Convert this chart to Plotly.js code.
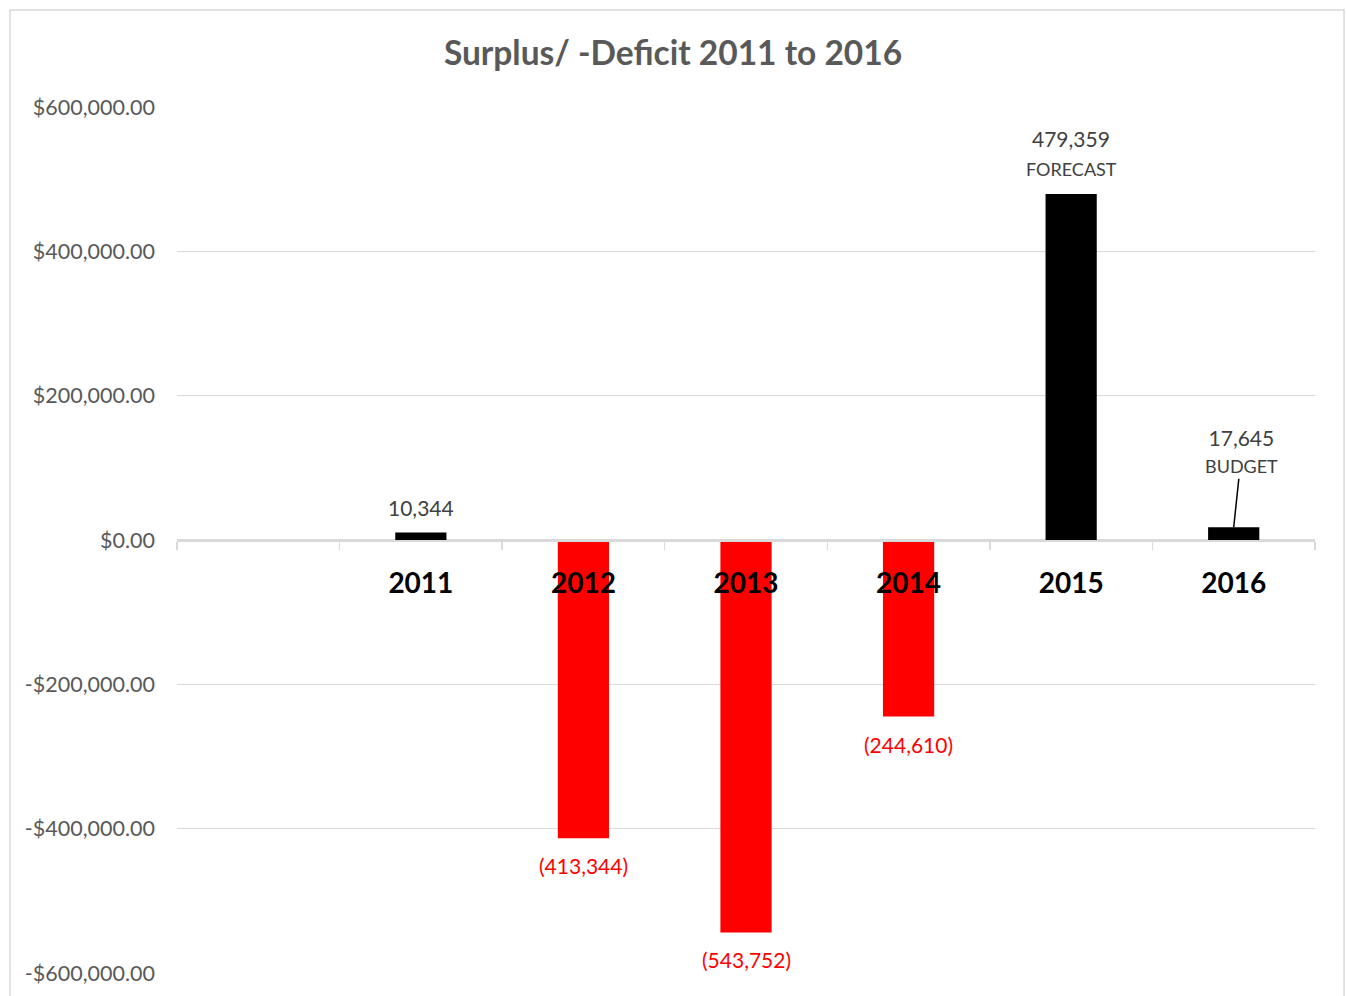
<!DOCTYPE html>
<html>
<head>
<meta charset="utf-8">
<script src="https://cdn.plot.ly/plotly-3.0.1.min.js"></script>
<style>html,body{margin:0;padding:0;background:#fff;}#chart{width:1346px;height:996px;}</style>
</head>
<body>
<div id="chart"></div>
<script>
const categories = [" ", "2011", "2012", "2013", "2014", "2015", "2016"];
const years = ["2011", "2012", "2013", "2014", "2015", "2016"];
const values = [10344, -413344, -543752, -244610, 479359, 17645];
const notes = ["", "", "", "", "FORECAST", "BUDGET"];
const yTickVals = [-600000, -400000, -200000, 0, 200000, 400000, 600000];

const FONT = "Lato, 'Open Sans', sans-serif";
const barColors = values.map(v => v < 0 ? "#ff0000" : "#000000");
const labelColors = values.map(v => v < 0 ? "#ff0000" : "#404040");
const fmt = v => {
  const s = Math.abs(v).toLocaleString("en-US");
  return v < 0 ? "(" + s + ")" : s;
};
const money = v => (v < 0 ? "-$" : "$") + Math.abs(v).toLocaleString("en-US", {minimumFractionDigits: 2, maximumFractionDigits: 2});
const yTickText = yTickVals.map(money);

const annotations = [];
years.forEach((yr, i) => {
  const v = values[i];
  const xi = categories.indexOf(yr);
  const font = {family: FONT, size: 21, color: labelColors[i]};
  if (notes[i] === "BUDGET") {
    annotations.push({
      x: xi, y: v, xref: "x", yref: "y",
      text: fmt(v) + "<br><span style='font-size:18px'>" + notes[i] + "</span>",
      showarrow: true, arrowhead: 0, arrowwidth: 1.5, arrowcolor: "#000",
      ax: 8, ay: -76, standoff: 0, font: font
    });
  } else if (notes[i]) {
    annotations.push({
      x: xi, y: v, xref: "x", yref: "y", text: notes[i], showarrow: false,
      yanchor: "bottom", yshift: 12,
      font: {family: FONT, size: 18, color: labelColors[i]}
    });
    annotations.push({
      x: xi, y: v, xref: "x", yref: "y", text: fmt(v), showarrow: false,
      yanchor: "bottom", yshift: 41, font: font
    });
  } else {
    annotations.push({
      x: xi, y: v, xref: "x", yref: "y", text: fmt(v), showarrow: false,
      yanchor: v < 0 ? "top" : "bottom", yshift: v < 0 ? -13 : 11, font: font
    });
  }
});

const data = [{
  type: "bar",
  x: years,
  y: values,
  marker: {color: barColors},
  width: 0.315,
  hoverinfo: "x+y"
}];

const layout = {
  width: 1346, height: 996,
  margin: {l: 177, r: 31, t: 107, b: 23},
  paper_bgcolor: "#fff", plot_bgcolor: "#fff",
  showlegend: false,
  title: {
    text: "<b>Surplus/ -Deficit 2011 to 2016</b>",
    x: 0.5, xanchor: "center", y: 0.947, yanchor: "middle",
    font: {family: FONT, size: 33.5, color: "#595959"}
  },
  xaxis: {
    type: "category",
    categoryorder: "array",
    categoryarray: categories,
    range: [-0.5, 6.5],
    anchor: "free", position: 0.5,
    showline: true, linecolor: "#d9d9d9", linewidth: 1.5,
    ticks: "outside", tickson: "boundaries", ticklen: 8, tickcolor: "#d9d9d9", tickwidth: 1.5,
    ticklabelstandoff: 18,
    tickfont: {family: FONT, size: 28, color: "#000", weight: "bold"},
    showgrid: false, zeroline: false, fixedrange: true
  },
  yaxis: {
    range: [-600000, 600000],
    tickvals: yTickVals,
    ticktext: yTickText,
    tickfont: {family: FONT, size: 21.5, color: "#595959"},
    ticklabelstandoff: 21,
    showgrid: true, gridcolor: "#d9d9d9", gridwidth: 1.5,
    zeroline: false, showline: false, ticks: "", fixedrange: true
  },
  annotations: annotations,
  shapes: [{
    type: "rect", xref: "paper", yref: "paper",
    x0: -0.1467, x1: 1.0255, y0: -0.05, y1: 1.112,
    line: {color: "#d9d9d9", width: 1.5}, fillcolor: "rgba(0,0,0,0)", layer: "below"
  }]
};

Plotly.newPlot("chart", data, layout, {displayModeBar: false, staticPlot: true});
</script>
</body>
</html>
